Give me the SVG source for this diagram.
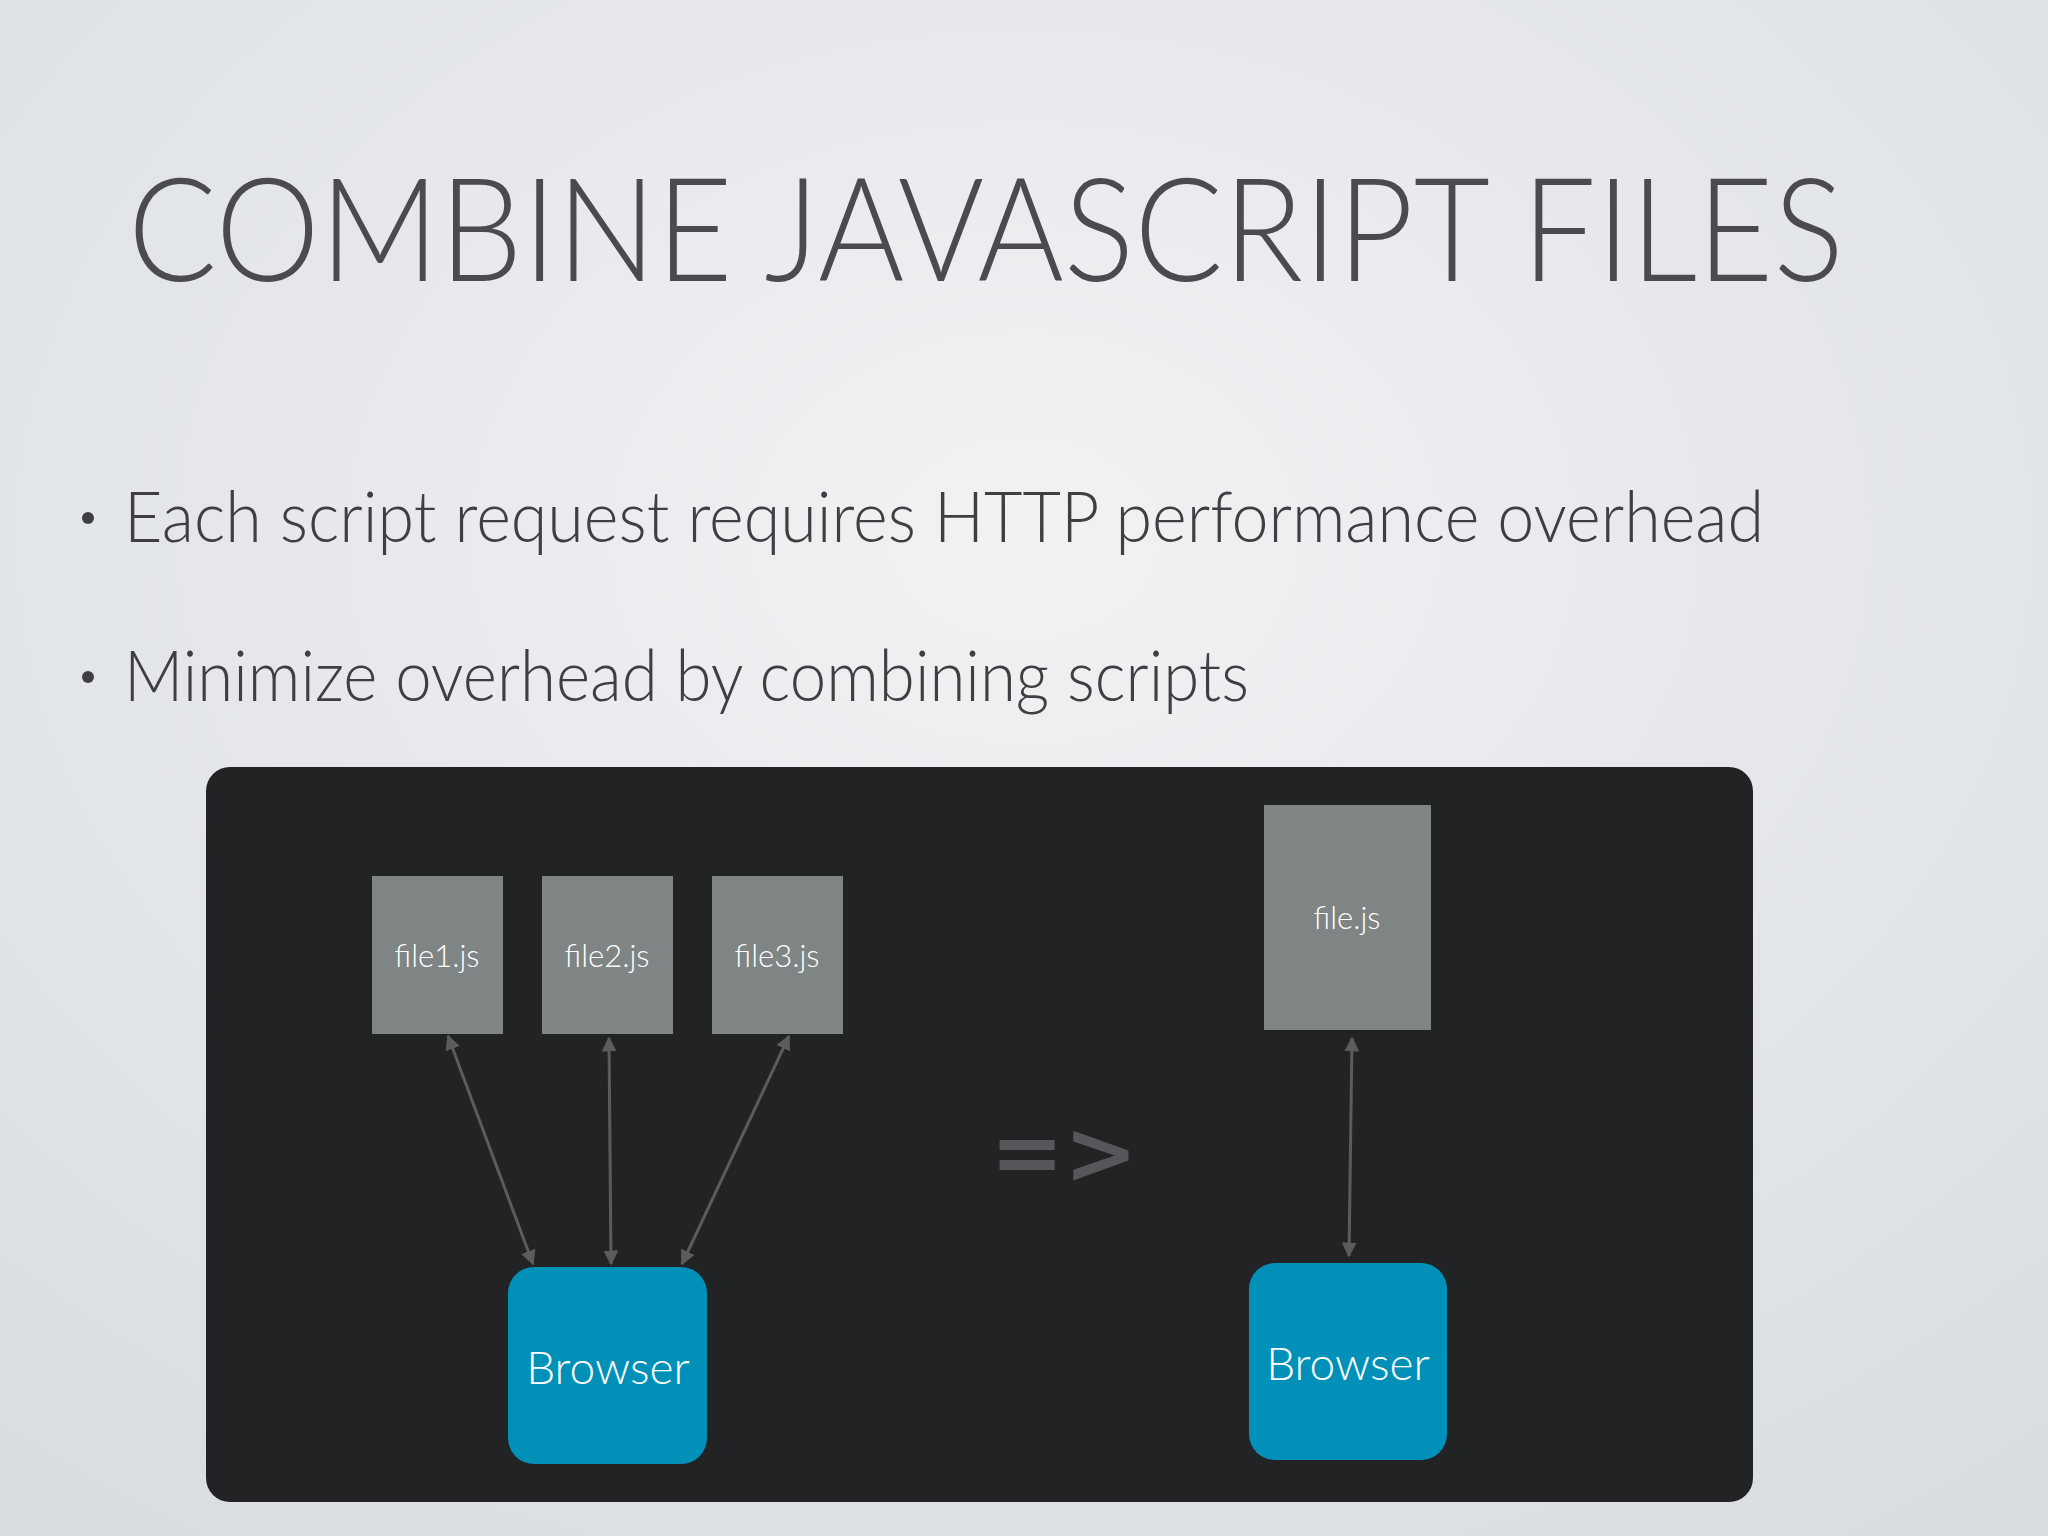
<svg xmlns="http://www.w3.org/2000/svg" width="2048" height="1536" viewBox="0 0 2048 1536">
<defs>
<radialGradient id="bg" cx="0.5" cy="0.35" r="0.8"><stop offset="0" stop-color="#f1f2f4"/><stop offset="1" stop-color="#d8dce1"/></radialGradient>
<marker id="ah" viewBox="0 0 10 10" refX="9" refY="5" markerWidth="5" markerHeight="5" orient="auto-start-reverse"><path d="M0,0L10,5L0,10z" fill="#5a5c5e"/></marker>
</defs>
<style>
.file{fill:#7f8584}
.ft{font-family:Lato,"Open Sans",sans-serif;font-weight:300;font-size:31px;fill:#ffffff;text-anchor:middle}
.br{fill:#0090b8}
.bt{font-family:Lato,"Open Sans",sans-serif;font-weight:300;font-size:46px;fill:#ffffff;text-anchor:middle}
.bul{font-family:Lato,"Open Sans",sans-serif;font-weight:300;font-size:70px;fill:#3e3f42}
.c{stroke:#5a5c5e;stroke-width:3;fill:none;marker-start:url(#ah);marker-end:url(#ah)}
</style>
<rect width="2048" height="1536" fill="url(#bg)"/>
<text x="128" y="281" font-family="Lato,'Open Sans',sans-serif" font-weight="300" font-size="144" fill="#4a4b4e" textLength="1716" lengthAdjust="spacingAndGlyphs">COMBINE JAVASCRIPT FILES</text>
<circle cx="88" cy="518" r="6" fill="#3e3f42"/>
<text class="bul" x="124" y="542" textLength="1640" lengthAdjust="spacingAndGlyphs">Each script request requires HTTP performance overhead</text>
<circle cx="88" cy="677" r="6" fill="#3e3f42"/>
<text class="bul" x="124" y="701" textLength="1125" lengthAdjust="spacingAndGlyphs">Minimize overhead by combining scripts</text>
<rect x="206" y="767" width="1547" height="735" rx="24" fill="#222325"/>
<g id="file1"><rect class="file" x="372" y="876" width="131" height="158"/><text class="ft" x="437" y="967">file1.js</text></g>
<g id="file2"><rect class="file" x="542" y="876" width="131" height="158"/><text class="ft" x="607" y="967">file2.js</text></g>
<g id="file3"><rect class="file" x="712" y="876" width="131" height="158"/><text class="ft" x="777" y="967">file3.js</text></g>
<g id="filejs"><rect class="file" x="1264" y="805" width="167" height="225"/><text class="ft" x="1347" y="929">file.js</text></g>
<g id="browser1"><rect class="br" x="508" y="1267" width="199" height="197" rx="26"/><text class="bt" x="608" y="1384">Browser</text></g>
<g id="browser2"><rect class="br" x="1249" y="1263" width="198" height="197" rx="26"/><text class="bt" x="1348" y="1380">Browser</text></g>
<g id="connectors">
<line class="c" x1="448" y1="1036" x2="533" y2="1264"/>
<line class="c" x1="609" y1="1038" x2="611" y2="1264"/>
<line class="c" x1="789" y1="1036" x2="682" y2="1264"/>
<line class="c" x1="1352" y1="1038" x2="1349" y2="1256"/>
</g>
<text x="1064" y="1183" font-family="'DejaVu Sans',sans-serif" font-weight="bold" font-size="88" fill="#55575a" text-anchor="middle">=&gt;</text>
</svg>
